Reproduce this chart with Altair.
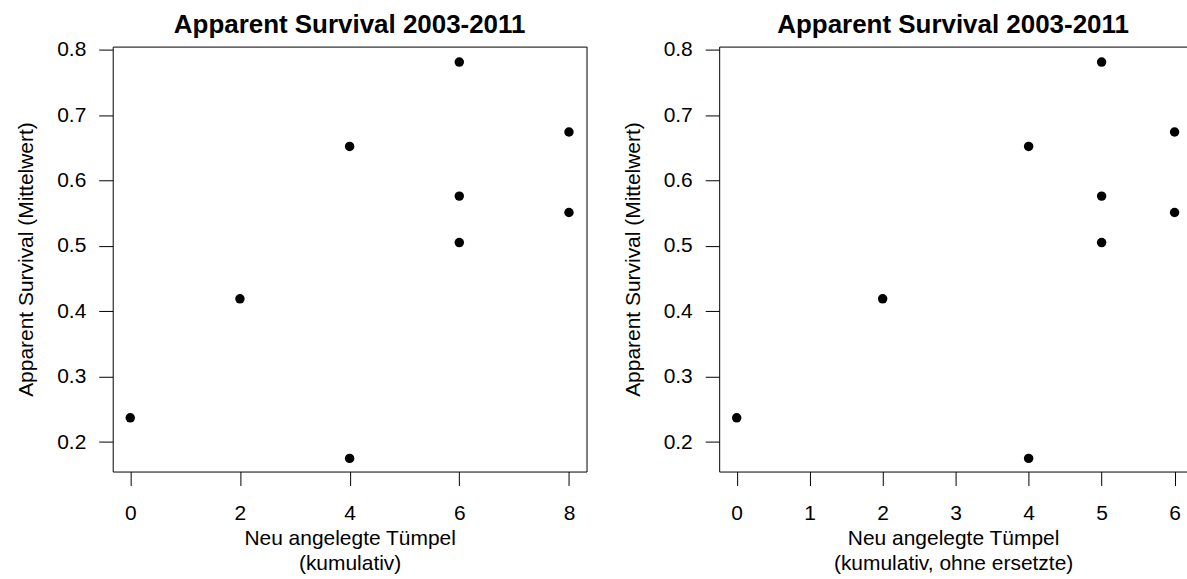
import altair as alt
import pandas as pd

# ---- data ----
survival = [0.237, 0.419, 0.175, 0.652, 0.781, 0.576, 0.505, 0.674, 0.551]
new_ponds_cum = [0, 2, 4, 4, 6, 6, 6, 8, 8]
new_ponds_cum_no_repl = [0, 2, 4, 4, 5, 5, 5, 6, 6]

title_text = "Apparent Survival 2003-2011"
y_title = "Apparent Survival (Mittelwert)"
x_title_left = ["Neu angelegte Tümpel", "(kumulativ)"]
x_title_right = ["Neu angelegte Tümpel", "(kumulativ, ohne ersetzte)"]
y_ticks = [0.2, 0.3, 0.4, 0.5, 0.6, 0.7, 0.8]
x_ticks_left = [0, 2, 4, 6, 8]
x_ticks_right = [0, 1, 2, 3, 4, 5, 6]

FONT = "Liberation Sans, Arial, Helvetica, sans-serif"
Y_DOMAIN = [0.1549, 0.8046]
H = 426


def panel(xvals, x_domain, x_ticks, x_title, width, right_frame):
    df = pd.DataFrame({"x": xvals, "y": survival})
    xs = alt.Scale(domain=x_domain, nice=False, zero=False)
    ys = alt.Scale(domain=Y_DOMAIN, nice=False, zero=False)
    common_axis = dict(
        domainColor="black", domainWidth=1, tickColor="black", tickWidth=1,
        tickSize=14, labelFont=FONT, labelFontSize=21, labelColor="black",
        titleFont=FONT, titleFontSize=21, titleFontWeight="normal",
        titleColor="black", grid=False,
    )
    pts = alt.Chart(df).mark_circle(size=90, color="black", opacity=1).encode(
        x=alt.X("x:Q", scale=xs, axis=alt.Axis(
            orient="bottom", values=x_ticks, format="d", title=x_title,
            labelPadding=17, titleBaseline="top", titleY=56, titleLineHeight=25,
            labelFlush=False, **common_axis)),
        y=alt.Y("y:Q", scale=ys, axis=alt.Axis(
            orient="left", values=y_ticks, format=".1f", title=y_title,
            labelPadding=13, titleBaseline="alphabetic", titleX=-80,
            titleAngle=270, labelFlush=False, **common_axis)),
    )
    frame_axis = dict(domainColor="black", domainWidth=1, labels=False,
                      ticks=False, grid=False, title=None)
    enc = dict(
        x=alt.X("x:Q", scale=xs, axis=alt.Axis(orient="top", **frame_axis)),
    )
    if right_frame:
        enc["y"] = alt.Y("y:Q", scale=ys, axis=alt.Axis(orient="right", **frame_axis))
    else:
        enc["y"] = alt.Y("y:Q", scale=ys, axis=None)
    frame = alt.Chart(df).mark_circle(size=90, opacity=0).encode(**enc)
    return alt.layer(pts, frame).resolve_axis(x="independent", y="independent").properties(
        width=width, height=H,
        title=alt.TitleParams(title_text, font=FONT, fontSize=26, fontWeight="bold",
                              color="black", anchor="middle", frame="group", offset=1),
    )


left = panel(new_ponds_cum, [-0.32, 8.32], x_ticks_left, x_title_left, 475, True)
right = panel(new_ponds_cum_no_repl, [-0.24, 6.17], x_ticks_right, x_title_right, 469, False)

chart = alt.hconcat(left, right, spacing=36).properties(
    padding={"left": 16, "top": 11, "right": 0, "bottom": 0},
    background="white",
).configure_view(stroke=None)

chart.save("out.html", embed_options={"renderer": "svg", "actions": False})
